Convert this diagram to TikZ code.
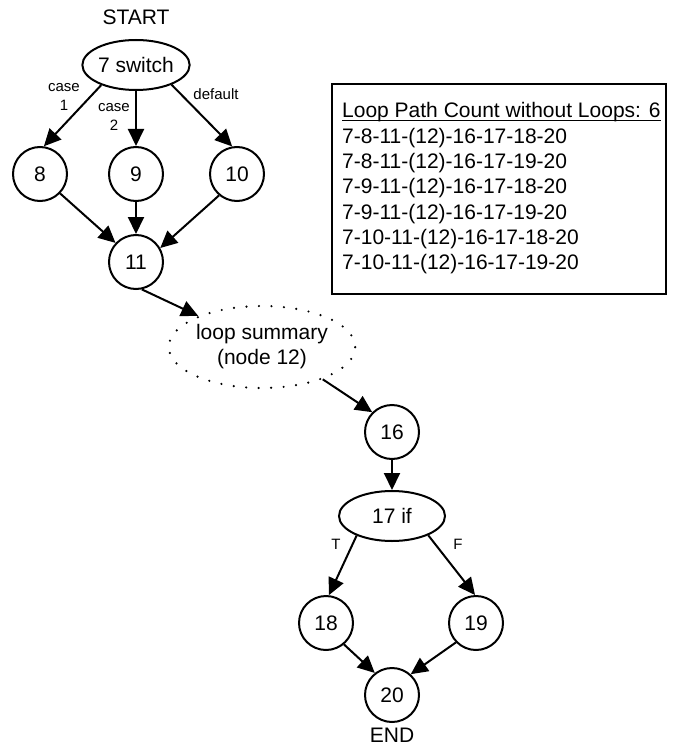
\documentclass[tikz,border=0pt]{standalone}
\usepackage{fontspec}
\setmainfont{Liberation Sans}
\usetikzlibrary{arrows.meta,shapes.geometric}
\begin{document}
\begin{tikzpicture}[x=1pt,y=-1pt,
  every node/.style={font=\fontsize{21}{25}\selectfont},
  circ/.style={draw,circle,line width=2pt,minimum size=54pt,inner sep=0pt},
  ell/.style={draw,ellipse,line width=2pt,minimum width=106pt,minimum height=50pt,inner sep=0pt},
  arr/.style={line width=2pt,-{Triangle[length=17pt,width=16pt]}},
  lbl/.style={font=\fontsize{15}{19}\selectfont,align=center},
  boxline/.style={anchor=base west,inner sep=0pt}]
\useasboundingbox (0,0) rectangle (679,746);
% nodes
\node (start) at (136,17) {START};
\node[ell] (n7) at (136,65) {7 switch};
\node[circ] (n8) at (40,174) {8};
\node[circ] (n9) at (136,174) {9};
\node[circ] (n10) at (237,174) {10};
\node[circ] (n11) at (136,262) {11};
\node[ellipse,draw,line width=2.4pt,dash pattern=on 0pt off 12.5pt,line cap=round,minimum width=168pt,minimum height=82pt,inner sep=0pt,align=center] (n12) at (262,347) {loop summary\\(node 12)};
\node[circ] (n16) at (392,432) {16};
\node[ell] (n17) at (392,516) {17 if};
\node[circ] (n18) at (326,623) {18};
\node[circ] (n19) at (476,623) {19};
\node[circ] (n20) at (392,695) {20};
\node (end) at (392,735) {END};
% edge labels
\node[lbl] (l1) at (64,97) {case\\1};
\node[lbl] (l2) at (114,117) {case\\2};
\node[lbl] (l3) at (216,94) {default};
\node[lbl] (lt) at (336,544) {T};
\node[lbl] (lf) at (458,544) {F};
% edges
\draw[arr] (n7.210) -- (n8.82);
\draw[arr] (n7.south) -- (n9.north);
\draw[arr] (n7.331) -- (n10.100);
\draw[arr] (n8.316) -- (n11.137);
\draw[arr] (n9.south) -- (n11.north);
\draw[arr] (n10.230) -- (n11.30);
\draw[arr] (n11.282) -- (n12.154);
\draw[arr] (n12.332) -- (n16.135);
\draw[arr] (n16.south) -- (n17.north);
\draw[arr] (n17.209) -- (n18.84);
\draw[arr] (n17.332) -- (n19.92);
\draw[arr] (n18.310) -- (n20.128);
\draw[arr] (n19.224) -- (n20.48);
% path box
\node[draw,line width=2pt,anchor=north west,minimum width=334pt,minimum height=210pt,inner sep=0pt] (box) at (331,83) {};
\node[boxline] (p0) at (342,118) {Loop Path Count without Loops: 6};
\draw[line width=1.1pt] ([yshift=-2.6pt]p0.base west) -- ([yshift=-2.6pt]p0.base east);
\node[boxline] (p1) at (342,143.3) {7-8-11-(12)-16-17-18-20};
\node[boxline] (p2) at (342,168.6) {7-8-11-(12)-16-17-19-20};
\node[boxline] (p3) at (342,193.9) {7-9-11-(12)-16-17-18-20};
\node[boxline] (p4) at (342,219.2) {7-9-11-(12)-16-17-19-20};
\node[boxline] (p5) at (342,244.5) {7-10-11-(12)-16-17-18-20};
\node[boxline] (p6) at (342,269.8) {7-10-11-(12)-16-17-19-20};
\end{tikzpicture}
\end{document}
